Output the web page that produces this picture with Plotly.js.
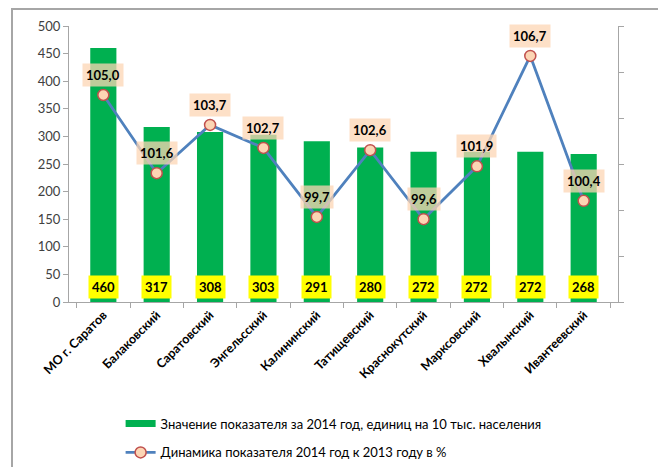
<!DOCTYPE html>
<html>
<head>
<meta charset="utf-8">
<script src="https://cdn.plot.ly/plotly-3.0.1.min.js"></script>
<style>
html,body{margin:0;padding:0;background:#fff;}
#chart{width:658px;height:467px;}
#frame{position:absolute;left:11px;top:8px;width:660px;height:470px;border-top:2px solid #a6a6a6;border-left:2px solid #a6a6a6;pointer-events:none;}
</style>
</head>
<body>
<div id="chart"></div>
<div id="frame"></div>
<script>
var categories = ["МО г. Саратов","Балаковский","Саратовский","Энгельсский","Калининский","Татищевский","Краснокутский","Марксовский","Хвалынский","Ивантеевский"];
var values2014 = [460, 317, 308, 303, 291, 280, 272, 272, 272, 268];
var dynamics = [105.0, 101.6, 103.7, 102.7, 99.7, 102.6, 99.6, 101.9, 106.7, 100.4];
var barName = "Значение показателя за 2014 год, единиц на 10 тыс. населения";
var lineName = "Динамика показателя 2014 год к 2013 году в %";

var font = "Lato, 'Open Sans', 'DejaVu Sans', sans-serif";

var traces = [
  {
    type: "bar", x: categories, y: values2014, name: barName,
    marker: {color: "#00b050"}, yaxis: "y", showlegend: false
  },
  {
    type: "scatter", mode: "lines", x: [null], y: [null], name: barName,
    yaxis: "y", legendgroup: "a", line: {color: "#00b050", width: 7}, hoverinfo: "skip"
  },
  {
    type: "scatter", mode: "lines+markers", x: categories, y: dynamics, name: lineName,
    yaxis: "y2", legendgroup: "b",
    line: {color: "#4f81bd", width: 2.8},
    marker: {size: 11, color: "#fcd5b4", line: {color: "#c0504d", width: 1.5}}
  }
];

var annotations = [];
categories.forEach(function(c, i){
  annotations.push({
    x: c, y: 0, xref: "x", yref: "y", yanchor: "bottom", yshift: 3,
    text: "<b>" + values2014[i] + "</b>", showarrow: false,
    bgcolor: "#ffff00", borderpad: 3,
    font: {family: font, size: 13, color: "#000"}
  });
  annotations.push({
    x: c, y: dynamics[i], xref: "x", yref: "y2", yanchor: "bottom", yshift: 8,
    text: "<b>" + dynamics[i].toFixed(1).replace(".", ",") + "</b>", showarrow: false,
    bgcolor: "rgba(252,213,180,0.75)", borderpad: 3,
    font: {family: font, size: 13, color: "#000"}
  });
});

var layout = {
  width: 658, height: 467,
  margin: {l: 69, r: 40, t: 26, b: 165, autoexpand: false},
  paper_bgcolor: "#fff", plot_bgcolor: "#fff",
  font: {family: font, size: 12, color: "#404040"},
  bargap: 0.51,
  showlegend: true,
  legend: {
    x: 0.094, xanchor: "left", y: -0.386, yanchor: "top",
    orientation: "v", traceorder: "grouped", tracegroupgap: 9,
    font: {family: font, size: 13, color: "#000"}
  },
  xaxis: {
    type: "category", tickangle: -45, ticks: "outside", tickson: "boundaries",
    ticklen: 5, tickcolor: "#a6a6a6", showline: true, linecolor: "#a6a6a6", linewidth: 1,
    showgrid: false, tickfont: {family: font, size: 12.5, color: "#000", weight: "bold"},
    automargin: false
  },
  yaxis: {
    range: [0, 500], dtick: 50, ticks: "outside", ticklen: 5, tickcolor: "#a6a6a6",
    showline: true, linecolor: "#a6a6a6", showgrid: false, zeroline: false,
    tickfont: {family: font, size: 13, color: "#404040"}, automargin: false
  },
  yaxis2: {
    overlaying: "y", side: "right", range: [96, 108], dtick: 2,
    ticks: "outside", ticklen: 5, tickcolor: "#a6a6a6", showline: true, linecolor: "#a6a6a6",
    showgrid: false, zeroline: false, showticklabels: false, automargin: false
  },
  annotations: annotations
};

Plotly.newPlot("chart", traces, layout, {staticPlot: true, displayModeBar: false});
</script>
</body>
</html>
